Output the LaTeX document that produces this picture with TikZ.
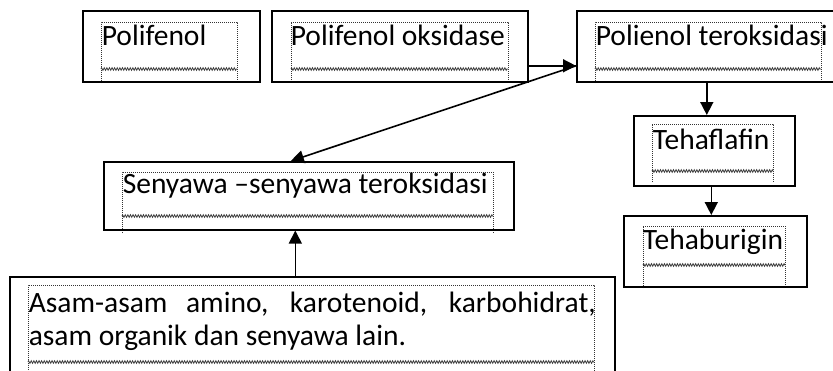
\documentclass[tikz,border=0pt]{standalone}
\usepackage{fontspec}
\setmainfont{Carlito}
\usetikzlibrary{arrows.meta, positioning, decorations.pathmorphing}

\begin{document}
\begin{tikzpicture}[
  x=1pt, y=-1pt,
  every node/.style={font=\fontsize{29.5}{33}\selectfont},
  box/.style={draw, line width=1.6pt, anchor=north west, align=flush left,
              inner xsep=19pt, inner ysep=5pt, text height=30pt, text depth=31pt},
  arr/.style={-{Triangle[length=13pt, width=13pt]}, line width=1.6pt},
  tbframe/.style={densely dotted, line width=1pt, black!80},
  squiggle/.style={decorate, decoration={zigzag, amplitude=1.3pt, segment length=2.6pt},
                   line width=0.8pt, black!75},
]
  \fill[white] (0,0) rectangle (833,370);
  \useasboundingbox (0,0) rectangle (833,370);
  \clip (0,0) rectangle (833,370);

  % text box frames
  \foreach \xa/\ya/\xb/\yw/\yb in {101/22/237/69/83, 291/22/508/69/82,
      595/22/821/69/83, 652/124/773/171/182, 643/226/785/265/288,
      122/172/493/216/233, 28/285/594/362/372} {
    \draw[tbframe] (\xa,\yb) -- (\xa,\ya) -- (\xb,\ya) -- (\xb,\yb);
    \draw[squiggle] (\xa,\yw) -- (\xb,\yw);
  }

  \node[box, text width=139pt] (pol)  at (82,10)  {Polifenol};
  \node[box, text width=218pt] (oks)  at (271,10) {Polifenol oksidase};
  \node[box, text width=232pt] (poli) at (576,10) {Polienol teroksidasi};

  \node[box, text width=123pt, text height=29pt, text depth=31pt] (tehaf) at (633,115) {Tehaflafin};
  \node[box, text width=145pt, text height=29pt, text depth=32pt] (tehab) at (623,215) {Tehaburigin};

  \node[box, text width=372pt, text height=27pt, text depth=31pt] (seny) at (103,161)
    {Senyawa --senyawa teroksidasi};
  \node[box, align=justify, text width=567pt, text height=31pt, text depth=69pt] (asam) at (9,276)
    {Asam-asam amino, karotenoid, karbohidrat,\linebreak asam organik dan senyawa lain.};

  \coordinate (join) at ([yshift=-19.5pt]poli.west);

  \draw[arr] (oks.east |- join) -- (join);
  \draw[arr] (join) -- ([xshift=-18pt]seny.north);
  \draw[arr] ([xshift=-5pt]poli.south) -- ([xshift=-5pt]poli.south |- tehaf.north);
  \draw[arr] ([xshift=-3pt]tehaf.south) -- ([xshift=-3pt]tehaf.south |- tehab.north);
  \draw[arr] ([xshift=-17pt]asam.north) -- ([xshift=-17pt]asam.north |- seny.south);
\end{tikzpicture}
\end{document}
